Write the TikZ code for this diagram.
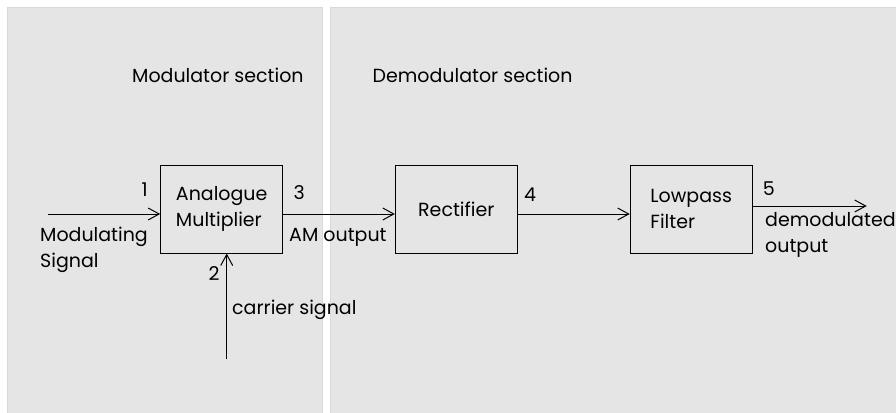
\documentclass[tikz,border=0pt]{standalone}
\usepackage{fontspec}
\setmainfont{Poppins}
\usetikzlibrary{arrows.meta}
\newcommand{\lblfont}{\fontsize{19}{25.5}\selectfont}
\begin{document}
\begin{tikzpicture}[x=1pt,y=-1pt,
  panel/.style={fill=black!10, draw=black!15, line width=0.8pt},
  block/.style={draw, line width=1pt, minimum width=122pt, minimum height=88pt,
                align=left, inner sep=0pt, font=\lblfont},
  lbl/.style={anchor=base west, inner sep=0pt, font=\lblfont, align=left},
  arr/.style={line width=1pt, -{Straight Barb[length=11pt,width=12pt,line width=1pt]}}
]
\useasboundingbox (0,0) rectangle (896,412);

% section panels
\fill[white] (0,0) rectangle (896,412);
\path[panel] (7,7) rectangle (322.5,414);
\path[panel] (330,7) rectangle (898,414);

% section titles
\node[lbl] (tmod) at (132,82.5) {Modulator section};
\node[lbl] (tdem) at (372.5,82) {Demodulator section};

% processing blocks
\node[block] (mult) at (221.7,209) {Analogue\\Multiplier};
\node[block] (rect) at (456.3,209) {Rectifier};
\node[block] (lpf)  at (691.2,209) {Lowpass\\Filter};

% free ends of the signal lines
\coordinate (sigin) at (47.7,214);
\coordinate (carin) at (226.7,359);
\coordinate (sigout) at (866.7,206);

% signal flow
\draw[arr] (sigin) -- (sigin -| mult.west);
\draw[arr] (carin) -- (carin |- mult.south);
\draw[arr] (mult.east |- sigin) -- (rect.west |- sigin);
\draw[arr] (rect.east |- sigin) -- (lpf.west |- sigin);
\draw[arr] (lpf.east |- sigout) -- (sigout);

% port numbers and signal names (two-line labels sit on their last baseline)
\node[lbl] (n1) at (141.5,196.7) {1};
\node[lbl] (n2) at (208.3,280) {2};
\node[lbl] (n3) at (293.3,199) {3};
\node[lbl] (n4) at (524,201.7) {4};
\node[lbl] (n5) at (762.7,195) {5};
\node[lbl] (modsig) at (40,267) {Modulating\\Signal};
\node[lbl] (carsig) at (232,314) {carrier signal};
\node[lbl] (amout) at (289,241.7) {AM output};
\node[lbl] (demout) at (765,252) {demodulated\\output};
\end{tikzpicture}
\end{document}
